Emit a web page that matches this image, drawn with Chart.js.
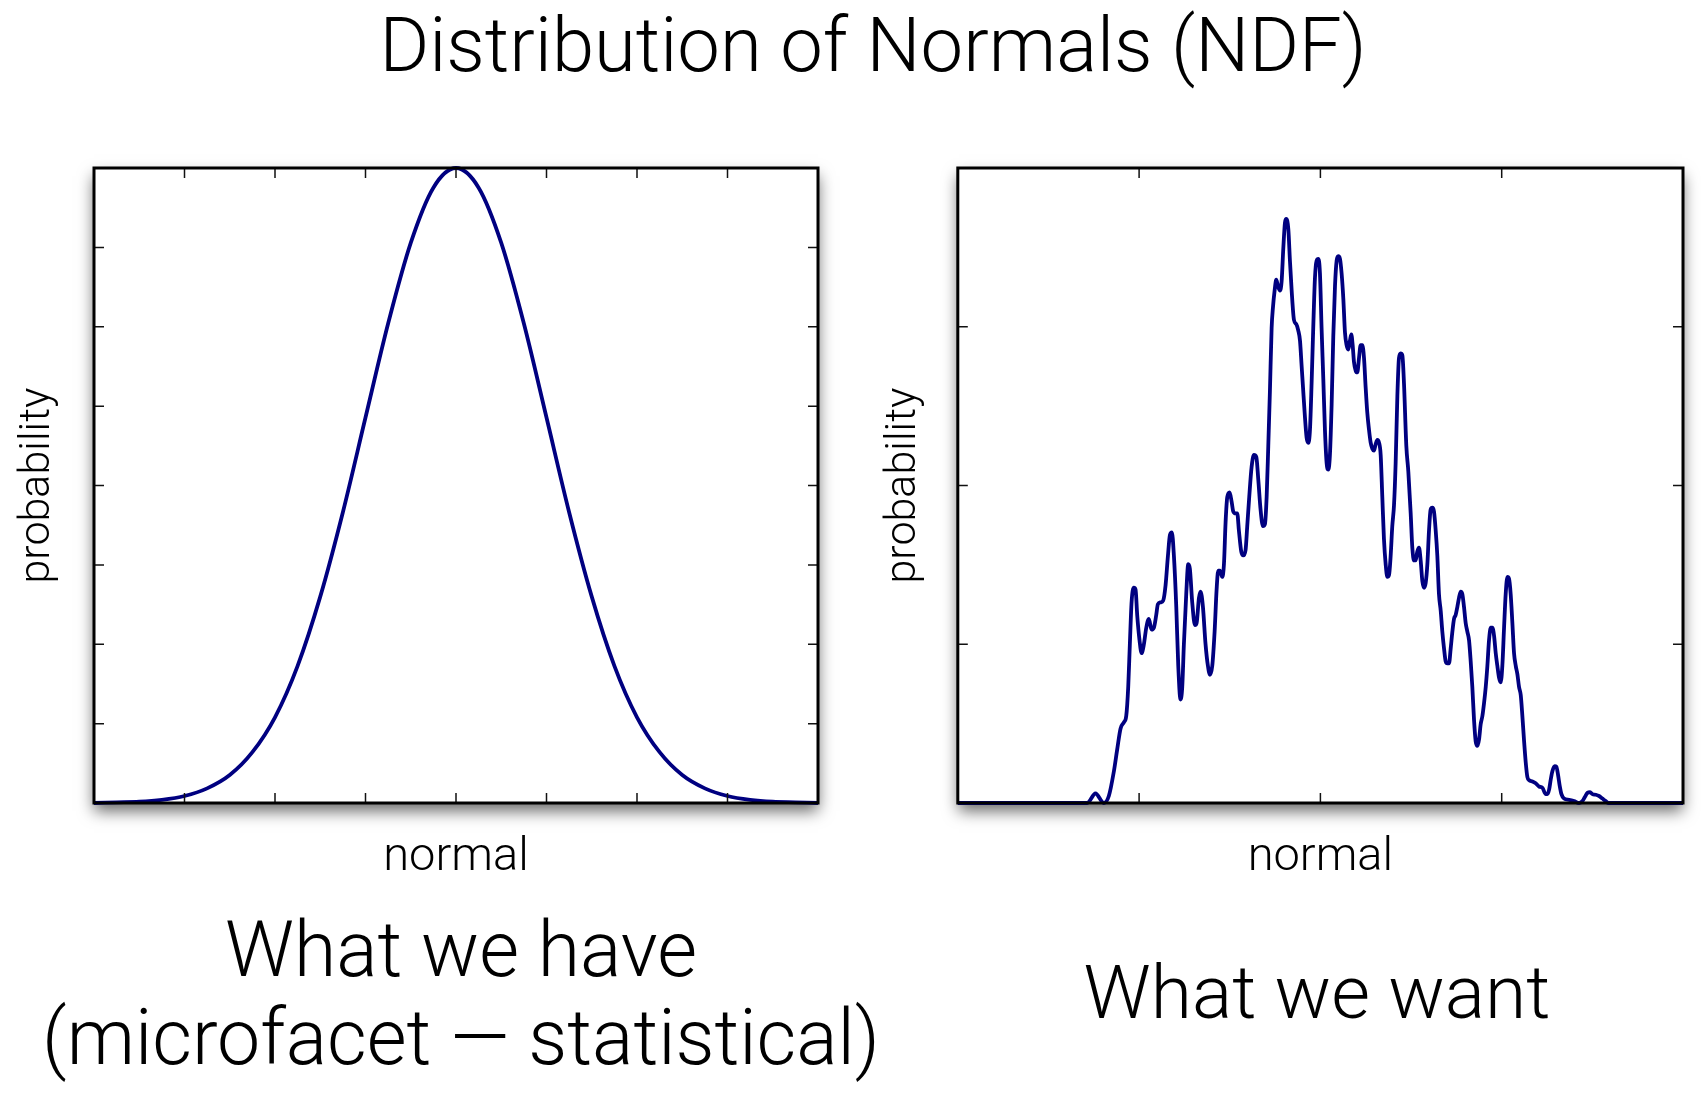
<!DOCTYPE html>
<html>
<head>
<meta charset="utf-8">
<script src="https://cdn.jsdelivr.net/npm/chart.js@4.4.1/dist/chart.umd.min.js"></script>
<style>
  html, body { margin: 0; padding: 0; background: #fff; }
  body { width: 1708px; height: 1106px; position: relative; overflow: hidden;
         font-family: Roboto, 'Liberation Sans', sans-serif; font-weight: 300; color: #000; }
  .txt { position: absolute; white-space: nowrap; font-size: 77px; line-height: 77px; transform: translateX(-50%); }
  .box { position: absolute; top: 100px; width: 854px; height: 800px; }
</style>
</head>
<body>
<div class="box" style="left:0"><canvas id="haveChart"></canvas></div>
<div class="box" style="left:854px"><canvas id="wantChart"></canvas></div>
<div class="txt" style="left:873px; top:7px; font-size:76px; line-height:76px;">Distribution of Normals (NDF)</div>
<div class="txt" style="left:461px; top:912px;">What we have</div>
<div class="txt" style="left:461px; top:1000px;">(microfacet — statistical)</div>
<div class="txt" style="left:1317px; top:955px; font-size:75px; line-height:75px;">What we want</div>
<script>
// left panel: smooth distribution
const haveX = [-4, -3.75, -3.5, -3.25, -3, -2.75, -2.5, -2.25, -2, -1.75, -1.5, -1.25, -1, -0.75, -0.5, -0.25,
               0, 0.25, 0.5, 0.75, 1, 1.25, 1.5, 1.75, 2, 2.25, 2.5, 2.75, 3, 3.25, 3.5, 3.75, 4];
const haveY = [0.000, 0.001, 0.002, 0.005, 0.011, 0.023, 0.044, 0.080, 0.135, 0.216, 0.325, 0.458, 0.607, 0.755, 0.882, 0.969,
               1.000, 0.969, 0.882, 0.755, 0.607, 0.458, 0.325, 0.216, 0.135, 0.080, 0.044, 0.023, 0.011, 0.005, 0.002, 0.001, 0.000];

// right panel: measured, noisy distribution
const wantX = [-4.000, -2.573, -2.481, -2.389, -2.334, -2.278, -2.242, -2.205, -2.168, -2.142, -2.120, -2.102, -2.083, -2.058,
  -2.039, -2.021, -1.995, -1.973, -1.947, -1.921, -1.892, -1.863, -1.837, -1.811, -1.793, -1.763, -1.734, -1.708, -1.682,
  -1.660, -1.638, -1.616, -1.590, -1.568, -1.543, -1.524, -1.506, -1.480, -1.458, -1.440, -1.414, -1.384, -1.366, -1.340,
  -1.322, -1.296, -1.267, -1.241, -1.219, -1.193, -1.167, -1.145, -1.127, -1.108, -1.083, -1.064, -1.046, -1.027, -1.002,
  -0.980, -0.961, -0.936, -0.917, -0.899, -0.873, -0.851, -0.825, -0.807, -0.785, -0.759, -0.733, -0.707, -0.685, -0.660,
  -0.634, -0.612, -0.593, -0.575, -0.557, -0.538, -0.523, -0.505, -0.487, -0.468, -0.446, -0.428, -0.409, -0.391, -0.376,
  -0.354, -0.336, -0.317, -0.292, -0.266, -0.244, -0.225, -0.207, -0.192, -0.174, -0.152, -0.133, -0.115, -0.097, -0.079,
  -0.060, -0.042, -0.023, -0.005, 0.013, 0.032, 0.050, 0.069, 0.087, 0.105, 0.124, 0.142, 0.161, 0.179, 0.197, 0.216,
  0.234, 0.253, 0.271, 0.289, 0.308, 0.326, 0.341, 0.356, 0.370, 0.389, 0.407, 0.426, 0.444, 0.462, 0.481, 0.499, 0.517,
  0.536, 0.554, 0.573, 0.591, 0.609, 0.628, 0.646, 0.665, 0.683, 0.701, 0.720, 0.738, 0.757, 0.775, 0.793, 0.812, 0.830,
  0.849, 0.867, 0.885, 0.904, 0.922, 0.948, 0.970, 0.996, 1.014, 1.033, 1.051, 1.069, 1.088, 1.106, 1.125, 1.143, 1.161,
  1.180, 1.198, 1.216, 1.235, 1.253, 1.272, 1.290, 1.308, 1.327, 1.345, 1.364, 1.382, 1.400, 1.419, 1.437, 1.456, 1.474,
  1.492, 1.511, 1.529, 1.548, 1.566, 1.584, 1.603, 1.621, 1.640, 1.658, 1.676, 1.695, 1.713, 1.732, 1.750, 1.768, 1.787,
  1.805, 1.824, 1.842, 1.860, 1.879, 1.897, 1.916, 1.934, 1.952, 1.971, 1.989, 2.007, 2.026, 2.044, 2.063, 2.081, 2.099,
  2.118, 2.136, 2.155, 2.173, 2.191, 2.210, 2.228, 2.247, 2.265, 2.283, 2.302, 2.339, 2.375, 2.412, 2.449, 2.486, 2.504,
  2.523, 2.541, 2.559, 2.585, 2.603, 2.622, 2.640, 2.659, 2.688, 2.743, 2.798, 2.854, 2.890, 2.916, 2.946, 2.975, 3.001,
  3.038, 3.074, 3.111, 3.148, 3.174, 4.000];
const wantY = [0, 0, 0.015, 0, 0.011, 0.050, 0.084, 0.117, 0.127, 0.137, 0.183, 0.250, 0.316, 0.339,
  0.336, 0.296, 0.256, 0.236, 0.250, 0.276, 0.290, 0.273, 0.276, 0.296, 0.313, 0.316, 0.319, 0.343, 0.389,
  0.422, 0.426, 0.389, 0.309, 0.216, 0.163, 0.183, 0.250, 0.329, 0.376, 0.369, 0.316, 0.280, 0.283, 0.323,
  0.333, 0.309, 0.250, 0.216, 0.202, 0.216, 0.270, 0.336, 0.366, 0.366, 0.356, 0.376, 0.442, 0.482, 0.489,
  0.475, 0.459, 0.456, 0.456, 0.429, 0.396, 0.390, 0.399, 0.436, 0.482, 0.529, 0.548, 0.545, 0.509, 0.462,
  0.436, 0.439, 0.482, 0.562, 0.648, 0.748, 0.781, 0.807, 0.824, 0.814, 0.807, 0.821, 0.874, 0.914, 0.920,
  0.904, 0.854, 0.807, 0.761, 0.754, 0.744, 0.728, 0.688, 0.655, 0.615, 0.575, 0.567, 0.588, 0.661, 0.748,
  0.827, 0.854, 0.857, 0.834, 0.748, 0.668, 0.588, 0.535, 0.525, 0.548, 0.628, 0.734, 0.814, 0.854, 0.861, 0.857,
  0.834, 0.794, 0.741, 0.721, 0.714, 0.728, 0.738, 0.721, 0.695, 0.681, 0.678, 0.701, 0.721, 0.721, 0.701, 0.655, 0.615,
  0.588, 0.568, 0.558, 0.555, 0.565, 0.572, 0.568, 0.548, 0.482, 0.416, 0.376, 0.356, 0.359, 0.389, 0.436, 0.469, 0.535,
  0.641, 0.701, 0.708, 0.705, 0.661, 0.562, 0.522, 0.456, 0.402, 0.382, 0.382, 0.396, 0.402, 0.382, 0.349, 0.339, 0.346,
  0.376, 0.429, 0.462, 0.465, 0.459, 0.429, 0.389, 0.329, 0.303, 0.270, 0.243, 0.223, 0.220, 0.220, 0.243, 0.270, 0.290,
  0.296, 0.309, 0.323, 0.333, 0.329, 0.309, 0.283, 0.270, 0.256, 0.223, 0.183, 0.130, 0.097, 0.090, 0.100, 0.124, 0.137,
  0.157, 0.183, 0.216, 0.256, 0.276, 0.276, 0.263, 0.236, 0.216, 0.197, 0.190, 0.216, 0.276, 0.329, 0.356, 0.353, 0.329,
  0.283, 0.236, 0.216, 0.203, 0.183, 0.170, 0.137, 0.097, 0.064, 0.041, 0.036, 0.034, 0.031, 0.026, 0.024, 0.014, 0.014,
  0.021, 0.037, 0.050, 0.058, 0.057, 0.044, 0.027, 0.014, 0.007, 0.005, 0.003, 0, 0.003, 0.009, 0.016, 0.017, 0.014,
  0.013, 0.011, 0.007, 0.003, 0, 0];

const lineColor = '#000080';
const fontFamily = "Roboto, 'Liberation Sans', sans-serif";

// white panel with drop shadow, black frame and inward ticks on all four sides
const framePlugin = {
    id: 'frame',
    beforeDraw(chart) {
        const { ctx, chartArea: a } = chart;
        ctx.save();
        ctx.shadowColor = 'rgba(0, 0, 0, 0.6)';
        ctx.shadowBlur = 15;
        ctx.shadowOffsetY = 8;
        ctx.fillStyle = '#fff';
        ctx.fillRect(a.left, a.top, a.right - a.left, a.bottom - a.top);
        ctx.restore();
    },
    afterDraw(chart) {
        const { ctx, chartArea: a, scales } = chart;
        const len = 10;
        ctx.save();
        ctx.strokeStyle = '#111';
        ctx.lineWidth = 1.5;
        ctx.beginPath();
        scales.x.ticks.forEach(t => {
            const px = scales.x.getPixelForValue(t.value);
            if (px <= a.left + 1 || px >= a.right - 1) return;
            ctx.moveTo(px, a.bottom); ctx.lineTo(px, a.bottom - len);
            ctx.moveTo(px, a.top); ctx.lineTo(px, a.top + len);
        });
        scales.y.ticks.forEach(t => {
            const py = scales.y.getPixelForValue(t.value);
            if (py <= a.top + 1 || py >= a.bottom - 1) return;
            ctx.moveTo(a.left, py); ctx.lineTo(a.left + len, py);
            ctx.moveTo(a.right, py); ctx.lineTo(a.right - len, py);
        });
        ctx.stroke();
        ctx.strokeStyle = '#000';
        ctx.lineWidth = 3;
        ctx.strokeRect(a.left, a.top, a.right - a.left, a.bottom - a.top);
        ctx.restore();
    }
};

function makeChart(id, xs, ys, opts) {
    const ctx = document.getElementById(id).getContext('2d');
    return new Chart(ctx, {
        type: 'line',
        data: {
            datasets: [{
                data: xs.map((x, i) => ({ x: x, y: ys[i] })),
                borderColor: lineColor,
                borderWidth: 3.8,
                pointRadius: 0,
                fill: false,
                cubicInterpolationMode: 'monotone',
                clip: false
            }]
        },
        options: {
            responsive: true,
            maintainAspectRatio: false,
            animation: false,
            events: [],
            layout: { padding: { left: 0, right: opts.padRight, top: 68, bottom: 0 } },
            scales: {
                x: {
                    type: 'linear',
                    min: -4,
                    max: 4,
                    ticks: { display: false, stepSize: opts.xStep },
                    grid: { display: false, drawTicks: false },
                    border: { display: false },
                    title: {
                        display: true,
                        text: 'normal',
                        color: '#000',
                        font: { family: fontFamily, size: 47, weight: 300 },
                        padding: { top: 27, bottom: 13.6 }
                    }
                },
                y: {
                    min: 0,
                    max: 1,
                    ticks: { display: false, stepSize: opts.yStep },
                    grid: { display: false, drawTicks: false },
                    border: { display: false },
                    title: {
                        display: true,
                        text: 'probability',
                        color: '#000',
                        font: { family: fontFamily, size: 43, weight: 300 },
                        padding: opts.yTitlePad
                    }
                }
            },
            plugins: {
                legend: { display: false },
                tooltip: { enabled: false }
            }
        },
        plugins: [framePlugin]
    });
}

makeChart('haveChart', haveX, haveY, { padRight: 36, xStep: 1, yStep: 0.125, yTitlePad: { top: 12, bottom: 30.4 } });
makeChart('wantChart', wantX, wantY, { padRight: 25, xStep: 2, yStep: 0.25, yTitlePad: { top: 24, bottom: 28.2 } });
</script>
</body>
</html>
